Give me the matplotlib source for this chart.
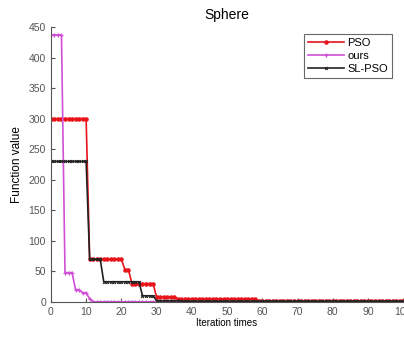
import numpy as np
import matplotlib.pyplot as plt

plt.rcParams['font.family'] = ['Liberation Sans', 'DejaVu Sans']

# step levels and how many iterations each level lasts (iterations 0..100)
pso_levels = [300, 70, 53, 30, 8, 5, 2]
pso_runs = [11, 10, 2, 7, 6, 23, 42]

ours_levels = [437, 48, 20, 15, 5, 0.3]
ours_runs = [4, 3, 2, 2, 1, 89]

slpso_levels = [230, 70, 33, 10, 2, 0.8]
slpso_runs = [11, 4, 11, 4, 8, 63]

iterations = np.arange(0, 101)
pso = np.repeat(pso_levels, pso_runs)
ours = np.repeat(ours_levels, ours_runs)
slpso = np.repeat(slpso_levels, slpso_runs)

fig = plt.figure(figsize=(4.04, 3.37), dpi=100)
ax = fig.add_axes([0.126, 0.104, 0.872, 0.816])

ax.plot(iterations, pso, color='#e8141a', marker='.', markersize=4.5, linewidth=1.2, label='PSO')
ax.plot(iterations, ours, color='#d04fd6', marker='+', markersize=3.5, markeredgewidth=0.9, linewidth=1.2, label='ours')
ax.plot(iterations, slpso, color='#222222', marker='x', markersize=2, markeredgewidth=0.8, linewidth=1.2, label='SL-PSO')

ax.set_xlim(0, 100)
ax.set_ylim(0, 450)
ax.set_xticks(np.arange(0, 101, 10))
ax.set_yticks(np.arange(0, 451, 50))
ax.tick_params(direction='in', labelsize=7.5, colors='#555555', length=3)
for s in ['top', 'right']:
    ax.spines[s].set_visible(False)
for s in ['left', 'bottom']:
    ax.spines[s].set_color('#555555')

ax.set_title('Sphere', fontsize=10, pad=6)
ax.set_xlabel('Iteration times', fontsize=7, labelpad=1)
ax.set_ylabel('Function value', fontsize=8.5, labelpad=4)

leg = ax.legend(loc='upper right', bbox_to_anchor=(0.985, 0.995), fontsize=8, fancybox=False,
                edgecolor='#444444', handlelength=3.2, borderpad=0.4, labelspacing=0.25,
                handletextpad=0.3)
leg.get_frame().set_linewidth(0.8)

plt.savefig('out.png', dpi=100)
